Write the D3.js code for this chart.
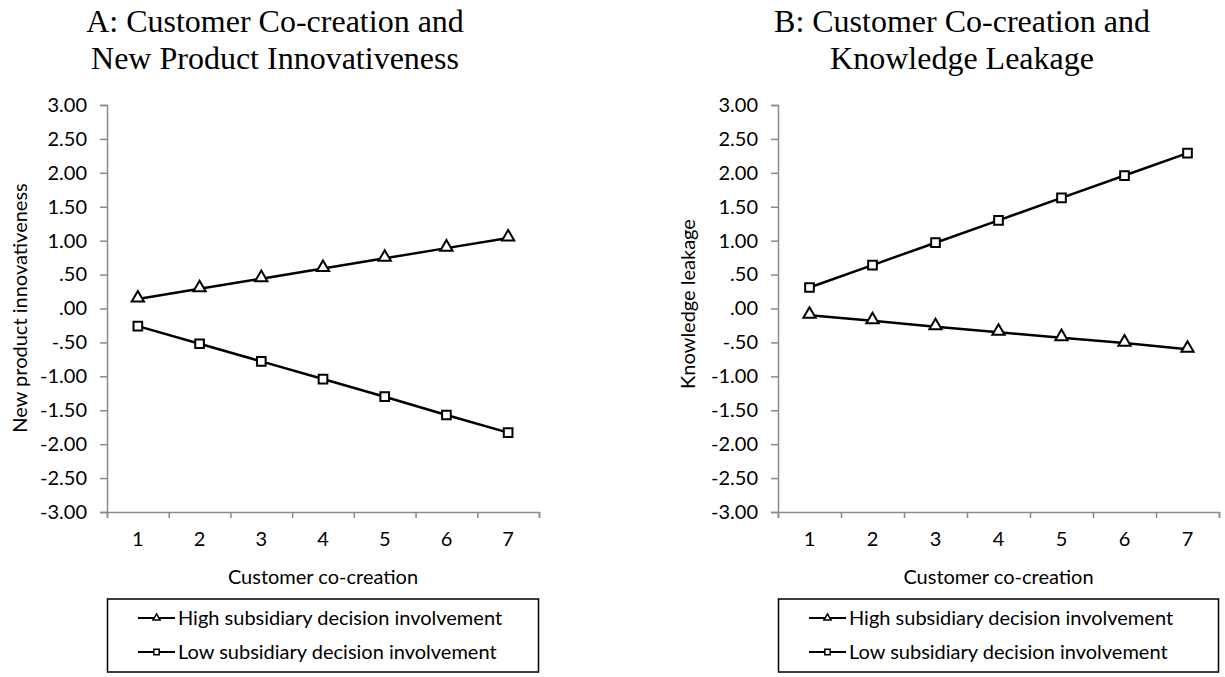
<!DOCTYPE html>
<html><head><meta charset="utf-8">
<script src="https://cdn.jsdelivr.net/npm/d3@7"></script>
<style>body{margin:0;background:#fff}</style>
</head><body>
<svg id="c" width="1225" height="677"></svg>
<script>
const categories = [1,2,3,4,5,6,7];
const yTicks = [3,2.5,2,1.5,1,0.5,0,-0.5,-1,-1.5,-2,-2.5,-3];
const seriesNames = ["High subsidiary decision involvement","Low subsidiary decision involvement"];
const highA = [0.14,0.29,0.44,0.59,0.74,0.89,1.04];
const lowA  = [-0.26,-0.52,-0.78,-1.04,-1.30,-1.57,-1.83];
const highB = [-0.10,-0.18,-0.27,-0.35,-0.43,-0.51,-0.60];
const lowB  = [0.31,0.64,0.97,1.30,1.63,1.96,2.29];
const titlesA = ["A: Customer Co-creation and","New Product Innovativeness"];
const titlesB = ["B: Customer Co-creation and","Knowledge Leakage"];
const xTitle = "Customer co-creation";
const yTitleA = "New product innovativeness";
const yTitleB = "Knowledge leakage";

const svg = d3.select("#c");
const sans = "Lato, 'Open Sans', sans-serif";
const serif = "'Liberation Serif', 'Times New Roman', serif";
const grey = "#8a8a8a";
const fs = "20px";

function fmt(v){
  let s = Math.abs(v).toFixed(2);
  if (s.startsWith("0")) s = s.slice(1);
  return (v < 0 ? "-" : "") + s;
}

function panel(o){
  const g = svg.append("g");
  const y = d3.scaleLinear().domain([-3,3]).range([512,105]);
  const x = d3.scaleBand().domain(categories).range([o.x0,o.x1]).padding(0);
  const xb = d3.scaleLinear().domain([0,7]).range([o.x0,o.x1]);

  // titles
  o.titles.forEach((t,i)=>{
    g.append("text").attr("x",o.tc).attr("y",32+i*37).attr("text-anchor","middle")
     .style("font-family",serif).style("font-size","32px").attr("fill","#000").text(t);
  });

  // y axis
  const ya = g.append("g").attr("transform",`translate(${o.x0},0)`)
    .call(d3.axisLeft(y).tickValues(yTicks).tickFormat(fmt).tickSize(7).tickPadding(13));
  ya.select(".domain").attr("stroke",grey).attr("stroke-width",1.5);
  ya.selectAll(".tick line").attr("stroke",grey).attr("stroke-width",1.5);
  ya.selectAll(".tick text").style("font-family",sans).style("font-size",fs).attr("fill","#000");

  // x axis boundaries ticks
  const xa = g.append("g").attr("transform",`translate(0,512)`)
    .call(d3.axisBottom(xb).tickValues(d3.range(0,8)).tickFormat("").tickSize(6).tickSizeOuter(6));
  xa.select(".domain").attr("stroke",grey).attr("stroke-width",1.5);
  xa.selectAll(".tick line").attr("stroke",grey).attr("stroke-width",1.5);
  // x labels
  const xl = g.append("g").attr("transform",`translate(0,512)`)
    .call(d3.axisBottom(x).tickSize(0).tickPadding(20));
  xl.select(".domain").remove();
  xl.selectAll(".tick text").style("font-family",sans).style("font-size",fs).attr("fill","#000");

  // axis titles
  g.append("text").attr("x",(o.x0+o.x1)/2).attr("y",584).attr("text-anchor","middle")
   .style("font-family",sans).style("font-size",fs).attr("fill","#000").text(xTitle);
  g.append("text").attr("transform",`translate(${o.yt},${o.ytc}) rotate(-90)`)
   .attr("text-anchor","middle").attr("dy","0.35em")
   .style("font-family",sans).style("font-size",fs).attr("fill","#000").text(o.yTitle);

  const line = d3.line().x((d,i)=>x(categories[i])+x.bandwidth()/2).y(d=>y(d));
  const tri = d3.symbol().type(d3.symbolTriangle).size(65);
  const sq = d3.symbol().type(d3.symbolSquare).size(75);
  [[o.high,tri],[o.low,sq]].forEach(([vals,sym])=>{
    g.append("path").datum(vals).attr("d",line).attr("fill","none").attr("stroke","#000").attr("stroke-width",2.5);
    g.selectAll(null).data(vals).enter().append("path")
     .attr("d",sym)
     .attr("transform",(d,i)=>`translate(${x(categories[i])+x.bandwidth()/2},${y(d)+(sym===tri?-1:0)})`)
     .attr("fill","#fff").attr("stroke","#000").attr("stroke-width",2);
  });

  // legend
  const lg = g.append("g");
  lg.append("rect").attr("x",o.x0+0.5).attr("y",599).attr("width",o.x1-o.x0-1).attr("height",73)
    .attr("fill","#fff").attr("stroke","#000").attr("stroke-width",1.5);
  const syms = [d3.symbol().type(d3.symbolTriangle).size(22), d3.symbol().type(d3.symbolSquare).size(28)];
  seriesNames.forEach((n,i)=>{
    const cy = 618 + i*34;
    const lx = o.x0 + 31;
    lg.append("line").attr("x1",lx).attr("x2",lx+37).attr("y1",cy).attr("y2",cy).attr("stroke","#000").attr("stroke-width",2);
    lg.append("path").attr("d",syms[i]).attr("transform",`translate(${lx+18.5},${cy})`)
      .attr("fill","#fff").attr("stroke","#000").attr("stroke-width",1.5);
    lg.append("text").attr("x",lx+40).attr("y",cy).attr("dy","0.35em")
      .style("font-family",sans).style("font-size",fs).attr("fill","#000").text(n);
  });
}

panel({x0:107,x1:539,tc:275,titles:titlesA,yTitle:yTitleA,yt:20,ytc:308,high:highA,low:lowA});
panel({x0:778,x1:1219,tc:962,titles:titlesB,yTitle:yTitleB,yt:688,ytc:304,high:highB,low:lowB});
</script>
</body></html>
